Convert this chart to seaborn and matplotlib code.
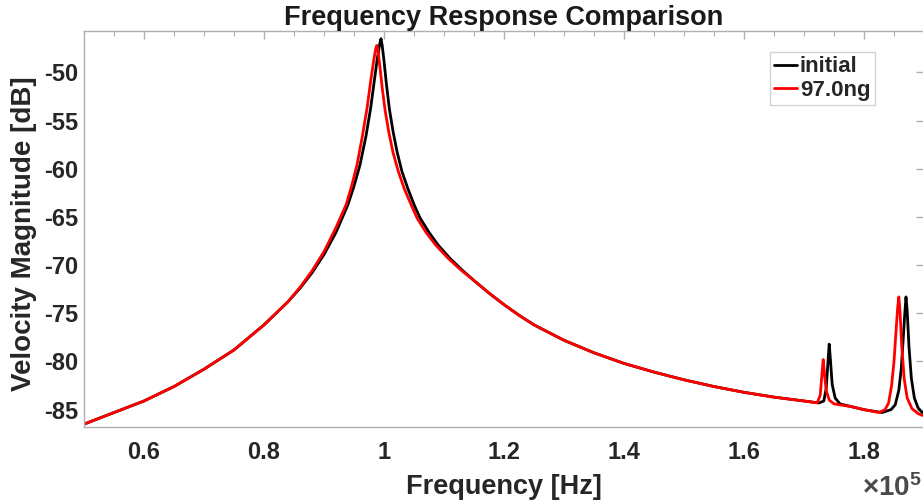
import numpy as np
import pandas as pd
import matplotlib
matplotlib.use("Agg")
import matplotlib.pyplot as plt
from matplotlib.ticker import FuncFormatter, MultipleLocator
import seaborn as sns

# ---- data (frequency in units of 1e5 Hz, magnitude in dB) ----
freq_initial = [0.50, 0.55, 0.60, 0.65, 0.70, 0.75, 0.80, 0.82, 0.84, 0.86,
                0.88, 0.90, 0.92, 0.94, 0.95, 0.96, 0.97, 0.978, 0.984, 0.989,
                0.993, 0.995, 0.997, 1.000, 1.004, 1.009, 1.015, 1.022, 1.030,
                1.040, 1.050, 1.060, 1.075, 1.090, 1.110, 1.130, 1.150, 1.175,
                1.200, 1.225, 1.25, 1.30, 1.35, 1.40, 1.45, 1.50, 1.55, 1.60,
                1.65, 1.70, 1.725, 1.733, 1.737, 1.740, 1.742, 1.744, 1.747,
                1.752, 1.76, 1.78, 1.80, 1.82, 1.83, 1.845, 1.852, 1.858, 1.862,
                1.865, 1.868, 1.870, 1.872, 1.875, 1.879, 1.884, 1.890, 1.897]
mag_initial = [-86.5, -85.3, -84.1, -82.6, -80.8, -78.8, -76.2, -75.0, -73.8, -72.4,
               -70.8, -68.9, -66.6, -63.7, -61.8, -59.6, -56.6, -53.6, -50.8, -48.5,
               -47.0, -46.5, -47.2, -48.8, -51.2, -53.8, -56.1, -58.3, -60.3,
               -62.1, -63.7, -65.1, -66.6, -67.9, -69.3, -70.5, -71.6, -72.9,
               -74.1, -75.2, -76.2, -77.8, -79.1, -80.2, -81.1, -81.9, -82.6, -83.2,
               -83.7, -84.1, -84.3, -84.1, -82.8, -80.0, -78.2, -79.8, -82.4,
               -83.8, -84.4, -84.7, -85.0, -85.2, -85.3, -85.0, -84.5, -83.0, -80.8,
               -78.0, -75.0, -73.3, -74.8, -78.5, -81.8, -83.8, -84.8, -85.3]

freq_97ng = [0.50, 0.55, 0.60, 0.65, 0.70, 0.75, 0.80, 0.82, 0.84, 0.86,
             0.88, 0.90, 0.92, 0.937, 0.946, 0.955, 0.964, 0.972, 0.978, 0.983,
             0.986, 0.988, 0.990, 0.993, 0.997, 1.002, 1.008, 1.015, 1.024,
             1.034, 1.045, 1.055, 1.070, 1.086, 1.107, 1.128, 1.150, 1.175,
             1.200, 1.225, 1.25, 1.30, 1.35, 1.40, 1.45, 1.50, 1.55, 1.60,
             1.65, 1.70, 1.722, 1.727, 1.730, 1.732, 1.734, 1.737, 1.742,
             1.75, 1.76, 1.78, 1.80, 1.825, 1.835, 1.841, 1.846, 1.850, 1.853,
             1.856, 1.858, 1.860, 1.863, 1.867, 1.872, 1.880, 1.890, 1.897]
mag_97ng = [-86.5, -85.3, -84.1, -82.6, -80.8, -78.8, -76.2, -75.0, -73.8, -72.3,
            -70.6, -68.6, -66.1, -63.7, -61.8, -59.6, -56.6, -53.6, -50.8, -48.7,
            -47.6, -47.2, -47.8, -49.3, -51.6, -54.0, -56.2, -58.3, -60.3,
            -62.1, -63.7, -65.1, -66.6, -67.9, -69.3, -70.5, -71.6, -72.9,
            -74.1, -75.2, -76.2, -77.8, -79.1, -80.2, -81.1, -81.9, -82.6, -83.2,
            -83.7, -84.1, -84.3, -83.5, -81.3, -79.8, -81.2, -83.0, -84.0,
            -84.4, -84.5, -84.7, -85.0, -85.3, -85.0, -84.3, -82.5, -80.0, -77.2,
            -74.5, -73.3, -74.8, -78.5, -81.8, -83.8, -84.9, -85.4, -85.6]

series_names = ["initial", "97.0ng"]
series_colors = ["#000000", "#ff0000"]
x_ticks = [0.6, 0.8, 1.0, 1.2, 1.4, 1.6, 1.8]
y_ticks = [-85, -80, -75, -70, -65, -60, -55, -50]

df = pd.concat([
    pd.DataFrame({"freq": freq_initial, "mag": mag_initial, "series": series_names[0]}),
    pd.DataFrame({"freq": freq_97ng, "mag": mag_97ng, "series": series_names[1]}),
], ignore_index=True)

sns.set_style("white")
plt.rcParams["font.family"] = ["Liberation Sans", "DejaVu Sans"]
plt.rcParams["font.weight"] = "bold"
plt.rcParams["axes.unicode_minus"] = False
plt.rcParams["mathtext.fontset"] = "custom"
plt.rcParams["mathtext.rm"] = "Liberation Sans"
plt.rcParams["mathtext.bf"] = "Liberation Sans:bold"

fig = plt.figure(figsize=(9.23, 5.03), dpi=100)
ax = fig.add_axes([84 / 923, 1 - 427 / 503, 840 / 923, 396 / 503])

sns.lineplot(data=df, x="freq", y="mag", hue="series", hue_order=series_names,
             palette=dict(zip(series_names, series_colors)), estimator=None,
             sort=False, linewidth=2.0, ax=ax)

ax.set_xlim(0.5, 1.9)
ax.set_ylim(-86.8, -45.7)
ax.set_xticks(x_ticks)
ax.set_yticks(y_ticks)
ax.xaxis.set_minor_locator(MultipleLocator(0.05))
ax.xaxis.set_major_formatter(FuncFormatter(lambda v, p: "%g" % round(v, 3)))

gray = "#b0b0b0"
for s in ax.spines.values():
    s.set_visible(True)
    s.set_color(gray)
    s.set_linewidth(1.0)

ax.tick_params(axis="both", which="both", direction="in", colors=gray,
               top=True, right=True, labelcolor="#262626", labelsize=17)
ax.tick_params(axis="both", which="major", length=6, width=1.0)
ax.tick_params(axis="x", which="minor", length=3.5, width=0.8)
ax.tick_params(axis="x", which="major", pad=10)
ax.tick_params(axis="y", which="major", pad=4)
for lbl in ax.get_xticklabels() + ax.get_yticklabels():
    lbl.set_fontweight("bold")

ax.set_xlabel("Frequency [Hz]", fontsize=19.5, fontweight="bold", color="#262626", labelpad=7)
ax.set_ylabel("Velocity Magnitude [dB]", fontsize=20, fontweight="bold", color="#262626", labelpad=5)
ax.yaxis.label.set_y(0.487)
ax.set_title("Frequency Response Comparison", fontsize=19.5, fontweight="bold",
             color="#1a1a1a", pad=4)

leg = ax.legend(loc="upper left", bbox_to_anchor=((770 - 84) / 840, (427 - 52) / 396),
                frameon=True, fancybox=False, handlelength=1.0,
                handletextpad=0.15, borderpad=0.2, labelspacing=0.1,
                borderaxespad=0.0, prop={"weight": "bold", "size": 16})
leg.get_frame().set_edgecolor("#c8c8c8")
leg.get_frame().set_linewidth(1.0)
for t in leg.get_texts():
    t.set_color("#262626")

fig.text(862 / 923, 1 - 496 / 503, r"$\times\mathbf{10^5}$", fontsize=20,
         color="#4a4a4a", ha="left", va="baseline", fontweight="normal")

fig.savefig("out.png", dpi=100, facecolor="white")
